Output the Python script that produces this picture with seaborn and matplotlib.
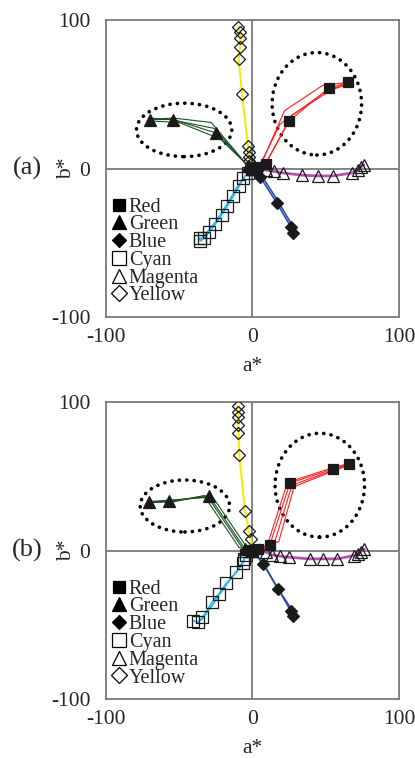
import matplotlib
matplotlib.use("Agg")
import matplotlib.pyplot as plt
from matplotlib.lines import Line2D
from matplotlib.patches import Ellipse
import seaborn as sns
import numpy as np

sns.set_style("white")
plt.rcParams['font.family'] = ['Liberation Serif', 'DejaVu Serif']

# ---------------- Panel (a) data (a*, b*) ----------------
A_RED_X = [0, 3, 9, 25, 52, 65]
A_RED_Y = [0, 1, 3, 32, 54, 58]
A_RED_ALT_X = [[0, 6, 22, 48, 65], [0, 5, 19, 50, 64], [1, 10, 27, 54, 66]]
A_RED_ALT_Y = [[0, 3, 39, 56, 58], [0, 2, 30, 52, 57], [0, 5, 36, 53, 57]]

A_GREEN_X = [0, -3, -25, -54, -70]
A_GREEN_Y = [0, 2, 24, 33, 33]
A_GREEN_ALT_X = [[-1, -5, -28, -54, -70], [0, -2, -22, -50, -69], [-1, -6, -26, -56, -70]]
A_GREEN_ALT_Y = [[0, 4, 31, 34, 33], [0, 1, 20, 31, 32], [1, 5, 27, 33, 34]]

A_BLUE_X = [0, 5.5, 16.6, 26.4, 27.5]
A_BLUE_Y = [0, -6, -23, -39.6, -43.6]
A_BLUE_ALT_X = [[0, 6.5, 17.5, 27, 28]]
A_BLUE_ALT_Y = [[0, -5, -22, -38, -42]]

A_CYAN_X = [0, -3, -6.1, -8.9, -13, -17, -21, -25.2, -29.3, -32.7, -35.4, -36]
A_CYAN_Y = [0, -3, -6.4, -11.8, -18.5, -25.3, -31.3, -37.4, -42.8, -46.8, -48.8, -46.8]
A_CYAN_ALT_X = [[0, -4, -9.5, -17.5, -25.5, -33, -36.5]]
A_CYAN_ALT_Y = [[0, -4, -11, -24.5, -36.5, -45.5, -48]]

A_MAGENTA_X = [0, 9, 15, 21, 34, 45, 55, 68, 72, 74, 76]
A_MAGENTA_Y = [0, -1, -2, -3, -4.5, -5, -5, -3, -1, 1, 2.5]

A_YELLOW_X = [0, -1, -2, -2, -2.5, -3, -7, -9.3, -8.5, -8.2, -8.5, -9.5]
A_YELLOW_Y = [0, 3, 5, 8, 11, 15, 50, 73.5, 82, 88, 92, 95.5]

# ---------------- Panel (b) data (a*, b*) ----------------
B_RED_X = [0, 4, 12, 25.7, 54.7, 65.7]
B_RED_Y = [0, 1, 4, 45.5, 54.7, 58.2]
B_RED_ALT_X = [[1, 7, 15, 27, 55, 66], [0, 5, 18, 28.5, 55, 66], [0, 3, 10, 24, 54, 65]]
B_RED_ALT_Y = [[0, 1, 5, 44, 54, 58], [0, 2, 6, 43, 53.5, 57.5], [0, 1, 3, 46, 55.5, 58.5]]

B_GREEN_X = [0, -5, -29.3, -56.6, -70.7]
B_GREEN_Y = [0, 1, 36.5, 33.3, 32.6]
B_GREEN_ALT_X = [[-1, -3, -27, -56, -70.5], [0, -7, -31, -57, -71], [0, -9, -33, -55, -70]]
B_GREEN_ALT_Y = [[0, 1, 36, 34, 33], [0, 2, 37, 33, 32], [0, 2, 37, 32.5, 33]]

B_BLUE_X = [0, 7.5, 17.7, 26.4, 28]
B_BLUE_Y = [0, -9, -26, -41, -44]
B_BLUE_ALT_X = [[0, 7, 17, 27, 28.5]]
B_BLUE_ALT_Y = [[0, -8, -25, -40, -43]]

B_CYAN_X = [0, -4.5, -5.5, -6.6, -11, -17.8, -22.7, -27.3, -34, -37, -40.5]
B_CYAN_Y = [0, -3, -5.6, -8.6, -14.7, -22, -29, -34.6, -45, -48.4, -47.3]
B_CYAN_ALT_X = [[0, -5, -10, -17, -26, -34, -38]]
B_CYAN_ALT_Y = [[0, -5, -13, -22, -35, -46, -49]]

B_MAGENTA_X = [0, 9.4, 13.4, 19, 25, 39, 48, 58, 69, 72, 74, 76.4]
B_MAGENTA_Y = [0, -1, -3, -3.8, -4.5, -5.6, -5.6, -5.6, -3.4, -2.3, -0.7, 1.1]

B_YELLOW_X = [0, -1, -2.5, -5, -8.9, -9.5, -9.5, -9.5, -9.5, -9.5]
B_YELLOW_Y = [0, 8, 13, 26.4, 64.2, 78.9, 84.5, 89.7, 93, 97.5]

# ellipse outlines: (center a*, center b*, width, height)
A_ELLIPSES = [(-46.5, 26, 65, 36), (44, 43.6, 61, 69)]
B_ELLIPSES = [(-46, 30, 61, 35), (46, 44, 61, 70)]

LEGEND_LABELS = ["Red", "Green", "Blue", "Cyan", "Magenta", "Yellow"]
TICKS = [-100, 0, 100]

COL = {"Red": "#ff1f1f", "Green": "#1f4f24", "Blue": "#2a4fa8",
       "Cyan": "#2fb8ea", "Magenta": "#b452b4", "Yellow": "#f2f000"}
MK = {"Red": ("s", True, 7.5), "Green": ("^", True, 8.5), "Blue": ("D", True, 6),
      "Cyan": ("s", False, 8), "Magenta": ("^", False, 9), "Yellow": ("D", False, 6.5)}
LW = {"Red": 0.8, "Green": 0.8, "Blue": 1.2, "Cyan": 1.2, "Magenta": 2.0, "Yellow": 1.5}
GRAY = "#7a7a7a"


def draw_series(ax, name, x, y, alts_x=None, alts_y=None):
    c = COL[name]
    if alts_x:
        for ax_, ay_ in zip(alts_x, alts_y):
            sns.lineplot(x=np.array(ax_, float), y=np.array(ay_, float), sort=False,
                         estimator=None, color=c, lw=LW[name], ax=ax, zorder=3)
    m, filled, ms = MK[name]
    sns.lineplot(x=np.array(x, float), y=np.array(y, float), sort=False, estimator=None,
                 color=c, lw=LW[name], marker=m, markersize=ms,
                 markerfacecolor=("#1a1a1a" if filled else "none"),
                 markeredgecolor="#1a1a1a", markeredgewidth=0.9, ax=ax, zorder=4)


def setup_axes(ax, tag, ells):
    ax.set_xlim(-100, 100)
    ax.set_ylim(-100, 100)
    ax.set_xticks(TICKS)
    ax.set_yticks(TICKS)
    ax.set_xticklabels([f"{t}" for t in TICKS])
    ax.set_yticklabels([f"{t}" for t in TICKS])
    ax.tick_params(axis="both", labelsize=15.5, direction="in", length=3, color=GRAY, width=1)
    ax.tick_params(axis="x", pad=8)
    ax.tick_params(axis="y", pad=11)
    for sp in ax.spines.values():
        sp.set_color(GRAY)
        sp.set_linewidth(1.3)
    ax.axhline(0, color=GRAY, lw=1.3, zorder=1)
    ax.axvline(0, color=GRAY, lw=1.3, zorder=1)
    ax.set_xlabel("a*", fontsize=15.5)
    ax.set_ylabel("b*", fontsize=15.5)
    ax.xaxis.set_label_coords(0.5, -0.136)
    ax.yaxis.set_label_coords(-0.10, 0.5)
    ax.text(-0.268, 0.5, tag, transform=ax.transAxes, ha="center", va="center", fontsize=19)
    for (cx, cy, w, h) in ells:
        e = Ellipse((cx, cy), w, h, fill=False, edgecolor="black", lw=2.6,
                    linestyle=(0, (0.05, 2.0)), capstyle="round", zorder=2)
        ax.add_patch(e)
    handles = []
    for name in LEGEND_LABELS:
        m, filled, ms = MK[name]
        handles.append(Line2D([], [], linestyle="none", marker=m, markersize=ms + 1.5,
                              markerfacecolor=("black" if filled else "white"),
                              markeredgecolor="black", markeredgewidth=0.9))
    ax.legend(handles, LEGEND_LABELS, loc="upper left", bbox_to_anchor=(0.02, 0.4025),
              borderaxespad=0, borderpad=0, frameon=False, fontsize=14.5,
              handlelength=0.7, handletextpad=0.15, labelspacing=-0.065)


fig = plt.figure(figsize=(4.15, 7.58), dpi=100)
ax_a = fig.add_axes([0.2547, 0.5818, 0.7067, 0.3918])
ax_b = fig.add_axes([0.2547, 0.0778, 0.7067, 0.3918])

draw_series(ax_a, "Yellow", A_YELLOW_X, A_YELLOW_Y)
draw_series(ax_a, "Magenta", A_MAGENTA_X, A_MAGENTA_Y)
draw_series(ax_a, "Cyan", A_CYAN_X, A_CYAN_Y, A_CYAN_ALT_X, A_CYAN_ALT_Y)
draw_series(ax_a, "Blue", A_BLUE_X, A_BLUE_Y, A_BLUE_ALT_X, A_BLUE_ALT_Y)
draw_series(ax_a, "Green", A_GREEN_X, A_GREEN_Y, A_GREEN_ALT_X, A_GREEN_ALT_Y)
draw_series(ax_a, "Red", A_RED_X, A_RED_Y, A_RED_ALT_X, A_RED_ALT_Y)
setup_axes(ax_a, "(a)", A_ELLIPSES)

draw_series(ax_b, "Yellow", B_YELLOW_X, B_YELLOW_Y)
draw_series(ax_b, "Magenta", B_MAGENTA_X, B_MAGENTA_Y)
draw_series(ax_b, "Cyan", B_CYAN_X, B_CYAN_Y, B_CYAN_ALT_X, B_CYAN_ALT_Y)
draw_series(ax_b, "Blue", B_BLUE_X, B_BLUE_Y, B_BLUE_ALT_X, B_BLUE_ALT_Y)
draw_series(ax_b, "Green", B_GREEN_X, B_GREEN_Y, B_GREEN_ALT_X, B_GREEN_ALT_Y)
draw_series(ax_b, "Red", B_RED_X, B_RED_Y, B_RED_ALT_X, B_RED_ALT_Y)
setup_axes(ax_b, "(b)", B_ELLIPSES)

fig.savefig("out.png", dpi=100)
